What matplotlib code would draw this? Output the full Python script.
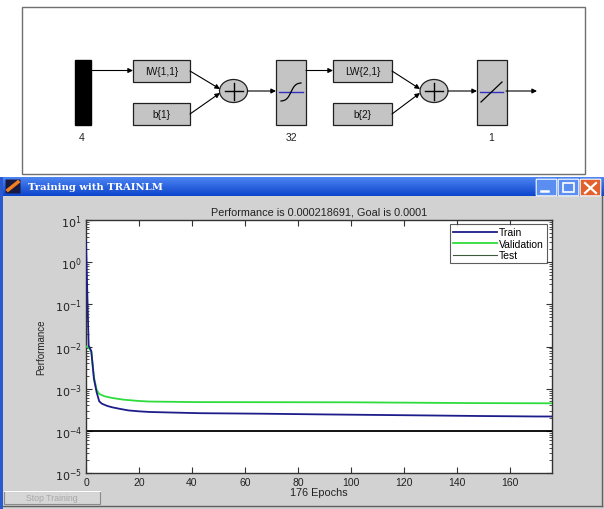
import numpy as np
import matplotlib
matplotlib.use("Agg")
import matplotlib.pyplot as plt
from matplotlib.patches import Rectangle, Ellipse, FancyBboxPatch

plt.rcParams['font.family'] = ['Liberation Sans', 'DejaVu Sans']

# ---------------- data ----------------
train_epochs = [0, 1, 2, 3, 4, 5, 6, 8, 10, 13, 16, 20, 24, 32, 43, 66, 90, 128, 148, 170, 176]
train_perf = [3.2, 1.05e-2, 7.8e-3, 1.7e-3, 8.3e-4, 5.0e-4, 4.4e-4, 3.9e-4, 3.6e-4, 3.3e-4,
              3.05e-4, 2.9e-4, 2.8e-4, 2.72e-4, 2.62e-4, 2.55e-4, 2.45e-4, 2.32e-4, 2.25e-4,
              2.19e-4, 2.187e-4]
val_epochs = [0, 1, 2, 3, 4, 5, 7, 10, 14, 20, 24, 42, 100, 146, 176]
val_perf = [1.0e-2, 9.5e-3, 7.5e-3, 1.9e-3, 9.5e-4, 7.5e-4, 6.6e-4, 6.0e-4, 5.5e-4, 5.1e-4,
            4.95e-4, 4.8e-4, 4.75e-4, 4.55e-4, 4.5e-4]
goal = 1e-4
n_epochs = 176
series_names = ["Train", "Validation", "Test"]
xticks = [0, 20, 40, 60, 80, 100, 120, 140, 160]
yexp = [-5, -4, -3, -2, -1, 0, 1]
title = "Performance is 0.000218691, Goal is 0.0001"
layer_sizes = ["4", "32", "1"]

W, H = 604, 510
fig = plt.figure(figsize=(W / 100, H / 100), dpi=100)
fig.patch.set_facecolor('white')

# background / chrome axes in pixel coordinates
bg = fig.add_axes([0, 0, 1, 1])
bg.set_xlim(0, W)
bg.set_ylim(H, 0)
bg.axis('off')

# ---------- network diagram ----------
bg.add_patch(Rectangle((22, 8), 563, 167, fc='white', ec='#707070', lw=1.0))
boxc = '#c4c4c4'
edge = '#202020'
bg.add_patch(Rectangle((75, 61), 16, 65, fc='black', ec='black'))
for (x0, y0, w, h, t) in [(133, 61, 57, 22, "IW{1,1}"), (133, 104, 57, 22, "b{1}"),
                          (333, 61, 59, 22, "LW{2,1}"), (333, 104, 59, 22, "b{2}")]:
    bg.add_patch(Rectangle((x0, y0), w, h, fc=boxc, ec=edge, lw=0.9))
    bg.text(x0 + w / 2, y0 + h / 2, t, ha='center', va='center', fontsize=7.3, color='#111111')
for x0 in [276, 477]:
    bg.add_patch(Rectangle((x0, 61), 30, 65, fc=boxc, ec=edge, lw=0.9))
for cx in [233.5, 434]:
    bg.add_patch(Ellipse((cx, 92), 28, 23, fc=boxc, ec=edge, lw=0.9))
    bg.plot([cx - 9, cx + 9], [92, 92], color='k', lw=1.0)
    bg.plot([cx, cx], [83.5, 100.5], color='k', lw=1.0)

# transfer function glyphs
bg.plot([279, 303], [93, 93], color='#3030c0', lw=1.0)
tt = np.linspace(-1, 1, 40)
bg.plot(291 + 10 * tt, 93 - 9 * np.tanh(2.2 * tt) / np.tanh(2.2), color='k', lw=0.9)
bg.plot([480, 503], [93, 93], color='#3030c0', lw=1.0)
bg.plot([481, 502], [103, 83], color='k', lw=0.9)

ap = dict(arrowstyle='-|>', lw=0.8, color='k', mutation_scale=7, shrinkA=0, shrinkB=0)
for (a, b) in [((91, 71.5), (133, 71.5)), ((190, 72), (220, 90)), ((190, 115), (220, 94)),
               ((248, 92), (276, 92)), ((306, 71.5), (333, 71.5)), ((392, 72), (420, 90)),
               ((392, 115), (420, 94)), ((448, 92), (477, 92)), ((506, 92), (537, 92))]:
    bg.annotate('', xy=b, xytext=a, arrowprops=ap)
for x, t in zip([82, 291, 491.5], layer_sizes):
    bg.text(x, 138, t, ha='center', va='center', fontsize=7.5, color='#222222')

# ---------- window chrome ----------
bg.add_patch(Rectangle((0, 178), W, H - 178, fc='#d2d2d2', ec='none'))
grad = np.linspace(0, 1, 20)[:, None]
cols = np.array([[0.30, 0.52, 0.95]]) * (1 - grad) + np.array([[0.05, 0.27, 0.80]]) * grad
cols = np.repeat(cols[:, None, :], 2, axis=1)
bg.imshow(cols, extent=(0, W, 197, 178), aspect='auto', zorder=1, interpolation='bilinear')
bg.set_xlim(0, W)
bg.set_ylim(H, 0)
bg.add_patch(Rectangle((0, 178), 3, H - 178, fc='#2a5ad0', ec='none', zorder=2))
bg.plot([3, W - 2], [507, 507], color='#606060', lw=1.0)
bg.plot([W - 2.5, W - 2.5], [197, 507], color='#606060', lw=1.0)
# icon
bg.add_patch(FancyBboxPatch((6, 181), 14, 13, boxstyle='round,pad=0.5', fc='#1a1a40', ec='none', zorder=3))
bg.plot([8, 18], [191, 183], color='#f08020', lw=2.5, zorder=4)
bg.text(28, 188, "Training with TRAINLM", color='white', fontsize=7.2, fontweight='bold',
        family='DejaVu Serif', va='center', ha='left', zorder=4)
for x0, c in [(537, '#5a8ef0'), (559, '#5a8ef0'), (581, '#e2602c')]:
    bg.add_patch(FancyBboxPatch((x0, 181), 19, 15, boxstyle='round,pad=0.8', fc=c, ec='white', lw=0.8, zorder=3))
bg.plot([541, 548], [192, 192], color='white', lw=1.8, zorder=4)
bg.add_patch(Rectangle((563, 184), 11, 9, fc='none', ec='white', lw=1.2, zorder=4))
bg.plot([585, 596], [184, 194], color='white', lw=1.6, zorder=4)
bg.plot([585, 596], [194, 184], color='white', lw=1.6, zorder=4)
# stop training button
bg.add_patch(Rectangle((4, 492), 96, 13, fc='#d6d6d6', ec='#8a8a8a', lw=0.8, zorder=3))
bg.plot([4, 100], [492, 492], color='white', lw=0.8, zorder=4)
bg.text(52, 498.5, "Stop Training", color='#a8a8a8', fontsize=6.3, ha='center', va='center', zorder=4)

# ---------- performance plot ----------
ax = fig.add_axes([86 / W, 1 - 474 / H, 466 / W, 253 / H])
ax.set_facecolor('white')
ax.plot(train_epochs, train_perf, color='#1c1c8a', lw=1.3, label=series_names[0], zorder=4)
ax.plot(val_epochs, val_perf, color='#2edc3c', lw=1.3, label=series_names[1], zorder=3)
ax.plot([], [], color='#3c5a3c', lw=0.8, label=series_names[2])
ax.axhline(goal, color='black', lw=1.3)
ax.set_yscale('log')
ax.set_xlim(0, n_epochs)
ax.set_ylim(10.0 ** yexp[0], 10.0 ** yexp[-1])
ax.set_xticks(xticks)
ax.set_xticklabels([str(v) for v in xticks], fontsize=7.5)
ax.set_yticks([10.0 ** e for e in yexp])
ax.set_yticklabels([r'$10^{%d}$' % e for e in yexp], fontsize=8)
ax.tick_params(axis='both', which='both', direction='in', top=True, right=True,
               colors='#333333', labelcolor='#222222', pad=3)
ax.tick_params(which='major', length=4, width=0.8)
ax.tick_params(which='minor', length=2.5, width=0.6)
for s in ax.spines.values():
    s.set_color('#333333')
    s.set_linewidth(1.0)
ax.set_title(title, fontsize=7.8, pad=4, color='#222222')
ax.set_xlabel(f"{n_epochs} Epochs", fontsize=7.8, labelpad=0, color='#222222')
ax.set_ylabel("Performance", fontsize=7, labelpad=6, color='#222222')
leg = ax.legend(loc='upper right', bbox_to_anchor=(0.989, 0.984), borderaxespad=0,
                fontsize=7.5, frameon=True, fancybox=False, handlelength=4.2,
                handletextpad=0.2, labelspacing=0.15, borderpad=0.3)
leg.get_frame().set_edgecolor('#333333')
leg.get_frame().set_linewidth(0.8)

fig.savefig('out.png', dpi=100, facecolor=fig.get_facecolor())
